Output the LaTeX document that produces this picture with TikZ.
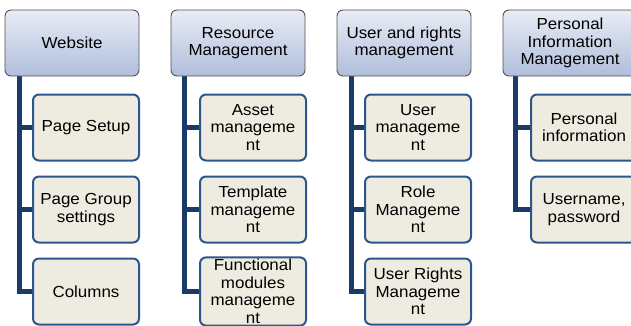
\documentclass[tikz,border=0pt]{standalone}
\usepackage{fontspec}
\setmainfont{Liberation Sans}[FakeStretch=1.06]
\usepackage{xcolor}
\usepackage{tikz}
\usetikzlibrary{backgrounds}
\definecolor{headtop}{RGB}{232,236,245}
\definecolor{headbot}{RGB}{176,190,219}
\definecolor{headline}{RGB}{80,80,80}
\definecolor{itemfill}{RGB}{238,236,225}
\definecolor{itemline}{RGB}{44,86,140}
\definecolor{linkblue}{RGB}{26,58,104}

\tikzset{
  headbox/.style={draw=headline, line width=0.9pt, rounded corners=6pt,
    top color=headtop, bottom color=headbot,
    minimum width=134pt, minimum height=66pt, inner sep=2pt,
    align=center, font=\fontsize{16}{17.5}\selectfont},
  itembox/.style={draw=itemline, line width=2pt, rounded corners=6pt,
    fill=itemfill, minimum width=106pt, minimum height=66pt, inner sep=2pt,
    align=center, font=\fontsize{16}{17.5}\selectfont},
  link/.style={draw=linkblue, line width=5pt}
}

\begin{document}
\begin{tikzpicture}[x=1pt,y=1pt]
  \useasboundingbox (0,0) rectangle (631,325);
  \clip (0,0) rectangle (631,325);

  % Drawing the four heads

  \node[headbox] (web) at (72,282) {Website};
  \node[headbox] (res) at (238,282) {Resource\\Management};
  \node[headbox] (usr) at (404,282) {User and rights\\management};
  \node[headbox] (pim) at (570,282) {Personal\\Information\\Management};

  % Items

  \node[itembox, anchor=west] (web1) at (32,197.5) {Page Setup};
  \node[itembox, anchor=west] (web2) at (32,115.5) {Page Group\\settings};
  \node[itembox, anchor=west] (web3) at (32,33.5) {Columns};

  \node[itembox, anchor=west] (res1) at (199,197.5) {Asset\\manageme\\nt};
  \node[itembox, anchor=west] (res2) at (199,115.5) {Template\\manageme\\nt};
  \node[itembox, anchor=west] (res3) at (199,33.5) {Functional\\modules\\manageme\\nt};

  \node[itembox, anchor=west] (usr1) at (364,197.5) {User\\manageme\\nt};
  \node[itembox, anchor=west] (usr2) at (364,115.5) {Role\\Manageme\\nt};
  \node[itembox, anchor=west] (usr3) at (364,33.5) {User Rights\\Manageme\\nt};

  \node[itembox, anchor=west] (pim1) at (530,197.5) {Personal\\information};
  \node[itembox, anchor=west] (pim2) at (530,115.5) {Username,\\password};

  % Connectors, behind the boxes

  \coordinate (webtrunk) at ([xshift=15pt]web.south west);
  \coordinate (restrunk) at ([xshift=14pt]res.south west);
  \coordinate (usrtrunk) at ([xshift=15pt]usr.south west);
  \coordinate (pimtrunk) at ([xshift=13pt]pim.south west);

  \begin{scope}[on background layer]
    \draw[link] (webtrunk) |- (web3.west);
    \draw[link] (webtrunk) |- (web1.west);
    \draw[link] (webtrunk) |- (web2.west);
    \draw[link] (restrunk) |- (res3.west);
    \draw[link] (restrunk) |- (res1.west);
    \draw[link] (restrunk) |- (res2.west);
    \draw[link] (usrtrunk) |- (usr3.west);
    \draw[link] (usrtrunk) |- (usr1.west);
    \draw[link] (usrtrunk) |- (usr2.west);
    \draw[link] (pimtrunk) |- (pim2.west);
    \draw[link] (pimtrunk) |- (pim1.west);
  \end{scope}
\end{tikzpicture}
\end{document}
